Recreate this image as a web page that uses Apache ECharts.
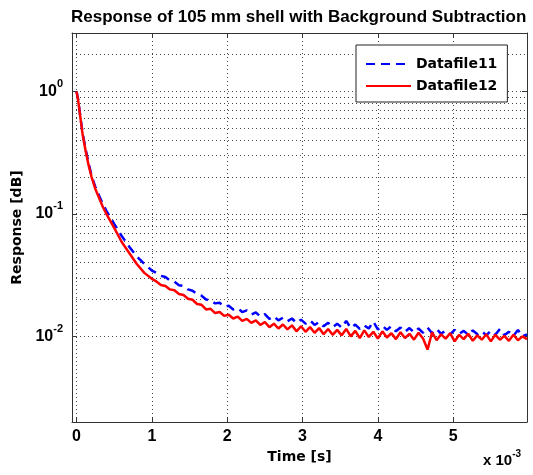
<!DOCTYPE html>
<html>
<head>
<meta charset="utf-8">
<script src="https://cdn.jsdelivr.net/npm/echarts@6/dist/echarts.min.js"></script>
<style>
  html, body { margin: 0; padding: 0; background: #fff; }
  #chart { width: 533px; height: 475px; }
</style>
</head>
<body>
<div id="chart"></div>
<script>
// time in units of 1e-3 s (axis shows "x 10^-3")
var timeMs = [
  0, 0.02, 0.05, 0.08, 0.12, 0.16, 0.2, 0.25, 0.3, 0.35, 0.4, 0.5, 0.6, 0.7, 0.8, 0.9,
  1.00, 1.06, 1.12, 1.18, 1.24, 1.30, 1.36, 1.42, 1.48, 1.54, 1.60, 1.66, 1.72, 1.78,
  1.84, 1.90, 1.96, 2.02, 2.08, 2.14, 2.20, 2.26, 2.32, 2.38, 2.44, 2.50, 2.56, 2.62,
  2.68, 2.74, 2.80, 2.86, 2.92, 2.98, 3.04, 3.10, 3.16, 3.22, 3.28, 3.34, 3.40, 3.46,
  3.52, 3.58, 3.64, 3.70, 3.76, 3.82, 3.88, 3.94, 4.00, 4.06, 4.12, 4.18, 4.24, 4.30,
  4.36, 4.42, 4.48, 4.54, 4.60, 4.66, 4.72, 4.78, 4.84, 4.90, 4.96, 5.02, 5.08, 5.14,
  5.20, 5.26, 5.32, 5.38, 5.44, 5.50, 5.56, 5.62, 5.68, 5.74, 5.80, 5.86, 5.92, 5.98
];

var datafile11 = [
  1.0, 0.87, 0.63, 0.46, 0.34, 0.26, 0.205, 0.166, 0.141, 0.12, 0.105, 0.083, 0.066, 0.054, 0.045, 0.039,
  0.0345, 0.0330, 0.0312, 0.0305, 0.0286, 0.0279, 0.0262, 0.0258, 0.0242, 0.0236, 0.0221, 0.0215, 0.0200, 0.0198,
  0.0186, 0.0188, 0.0175, 0.0178, 0.0166, 0.0170, 0.0158, 0.0163, 0.0151, 0.0157, 0.0145, 0.0152, 0.0139, 0.0146,
  0.0135, 0.0142, 0.0133, 0.0140, 0.0129, 0.0137, 0.0127, 0.0135, 0.0124, 0.0131, 0.0121, 0.0129, 0.0119, 0.0127,
  0.0118, 0.0134, 0.0117, 0.0125, 0.0115, 0.0123, 0.0116, 0.0132, 0.0114, 0.0122, 0.0113, 0.0121, 0.0110, 0.0118,
  0.0109, 0.0117, 0.0108, 0.0116, 0.0107, 0.0118, 0.0106, 0.0115, 0.0105, 0.0112, 0.0104, 0.0113, 0.0105, 0.0111,
  0.0103, 0.0112, 0.0104, 0.0110, 0.0102, 0.0111, 0.0103, 0.0115, 0.0102, 0.0109, 0.0101, 0.0113, 0.0100, 0.0104
];

var datafile12 = [
  1.0, 0.86, 0.62, 0.45, 0.33, 0.25, 0.2, 0.16, 0.135, 0.114, 0.099, 0.077, 0.059, 0.048, 0.039, 0.033,
  0.0295, 0.0281, 0.0263, 0.0258, 0.0242, 0.0238, 0.0222, 0.0218, 0.0203, 0.0199, 0.0184, 0.0181, 0.0166, 0.0168,
  0.0155, 0.0158, 0.0147, 0.0150, 0.0140, 0.0145, 0.0134, 0.0139, 0.0129, 0.0135, 0.0124, 0.0131, 0.0119, 0.0127,
  0.0116, 0.0125, 0.0114, 0.0123, 0.0110, 0.0121, 0.0109, 0.0119, 0.0107, 0.0117, 0.0104, 0.0115, 0.0103, 0.0113,
  0.0102, 0.0115, 0.0100, 0.0111, 0.0097, 0.0112, 0.0099, 0.0109, 0.0096, 0.0110, 0.0098, 0.0106, 0.0095, 0.0108,
  0.0097, 0.0105, 0.0094, 0.0107, 0.0096, 0.0078, 0.0108, 0.0093, 0.0104, 0.0096, 0.0106, 0.0091, 0.0103, 0.0095,
  0.0105, 0.0092, 0.0102, 0.0094, 0.0104, 0.0091, 0.0103, 0.0094, 0.0101, 0.0092, 0.0103, 0.0093, 0.0100, 0.0095
];

// minor log grid lines (2..9 per decade)
var minorGrid = [
  0.003, 0.004, 0.005, 0.006, 0.007, 0.008, 0.009,
  0.02, 0.03, 0.04, 0.05, 0.06, 0.07, 0.08, 0.09,
  0.2, 0.3, 0.4, 0.5, 0.6, 0.7, 0.8, 0.9,
  2
];

var chart = echarts.init(document.getElementById("chart"));

var axisColor = "#333";
var gridStyle = { color: "#444", type: [1, 3], width: 1 };
var numFont = "Liberation Sans";
var textFont = "DejaVu Sans";

function pairs(xs, ys) {
  return xs.map(function (x, i) { return [x, ys[i]]; });
}

var option = {
  animation: false,
  backgroundColor: "#fff",
  title: {
    text: "Response of 105 mm shell with Background Subtraction",
    left: 66,
    top: 4,
    textStyle: { fontFamily: numFont, fontWeight: "bold", fontSize: 17, color: "#000" }
  },
  grid: { left: 72, right: 6, top: 33, bottom: 53 },
  legend: {
    orient: "vertical",
    left: 356,
    top: 45,
    itemWidth: 45,
    itemHeight: 14,
    itemGap: 8,
    padding: [12, 10, 9, 9],
    backgroundColor: "#fff",
    borderColor: "#222",
    borderWidth: 1,
    borderRadius: 0,
    itemStyle: { opacity: 0 },
    textStyle: { fontFamily: textFont, fontWeight: "bold", fontSize: 14, color: "#000" },
    data: ["Datafile11", "Datafile12"]
  },
  xAxis: [
    {
      type: "value",
      min: -0.06,
      max: 5.98,
      name: "Time [s]",
      nameLocation: "middle",
      nameGap: 22,
      nameTextStyle: { fontFamily: textFont, fontWeight: "bold", fontSize: 14, color: "#000" },
      axisLine: { onZero: false, lineStyle: { color: axisColor } },
      axisTick: { inside: true, length: 5, lineStyle: { color: axisColor } },
      axisLabel: {
        margin: 7,
        fontFamily: numFont,
        fontWeight: "bold",
        fontSize: 16,
        color: "#000",
        formatter: function (v) {
          return Math.abs(v - Math.round(v)) < 1e-9 ? String(Math.round(v)) : "";
        }
      },
      splitLine: { show: true, lineStyle: gridStyle }
    },
    {
      type: "value",
      position: "top",
      min: -0.06,
      max: 5.98,
      axisLine: { show: true, onZero: false, lineStyle: { color: axisColor } },
      axisTick: { show: true, inside: true, length: 5, lineStyle: { color: axisColor } },
      axisLabel: { show: false },
      splitLine: { show: false }
    }
  ],
  yAxis: [
    {
      type: "log",
      logBase: 10,
      min: 0.002,
      max: 3,
      name: "Response [dB]",
      nameLocation: "middle",
      nameGap: 44,
      nameTextStyle: { fontFamily: textFont, fontWeight: "bold", fontSize: 14, color: "#000" },
      axisLine: { show: true, onZero: false, lineStyle: { color: axisColor } },
      axisTick: { show: true, inside: true, length: 5, lineStyle: { color: axisColor } },
      axisLabel: {
        margin: 9,
        color: "#000",
        formatter: function (v) {
          var l = Math.log10(v);
          var e = Math.round(l);
          if (Math.abs(l - e) > 1e-6) return "";
          return "{b|10}{s|" + e + "}";
        },
        rich: {
          b: { fontFamily: numFont, fontWeight: "bold", fontSize: 16, lineHeight: 26, color: "#000" },
          s: { fontFamily: numFont, fontWeight: "bold", fontSize: 11, lineHeight: 12, verticalAlign: "top", color: "#000" }
        }
      },
      splitLine: { show: true, lineStyle: gridStyle }
    },
    {
      type: "log",
      logBase: 10,
      min: 0.002,
      max: 3,
      position: "right",
      axisLine: { show: true, onZero: false, lineStyle: { color: axisColor } },
      axisTick: { show: true, inside: true, length: 5, lineStyle: { color: axisColor } },
      axisLabel: { show: false },
      splitLine: { show: false }
    }
  ],
  graphic: [
    {
      type: "text",
      left: 483,
      top: 449,
      style: {
        text: "{b|x 10}{s|-3}",
        rich: {
          b: { fontFamily: numFont, fontWeight: "bold", fontSize: 15, lineHeight: 24, fill: "#000" },
          s: { fontFamily: numFont, fontWeight: "bold", fontSize: 10, lineHeight: 11, verticalAlign: "top", fill: "#000" }
        }
      }
    }
  ],
  series: [
    {
      name: "Datafile11",
      type: "line",
      xAxisIndex: 0,
      yAxisIndex: 0,
      symbol: "none",
      data: pairs(timeMs, datafile11),
      lineStyle: { color: "#0000ff", width: 2.5, type: [9, 6] },
      itemStyle: { color: "#0000ff" },
      z: 3
    },
    {
      name: "Datafile12",
      type: "line",
      xAxisIndex: 0,
      yAxisIndex: 0,
      symbol: "none",
      data: pairs(timeMs, datafile12),
      lineStyle: { color: "#ff0000", width: 2.5 },
      itemStyle: { color: "#ff0000" },
      z: 4,
      markLine: {
        silent: true,
        symbol: ["none", "none"],
        label: { show: false },
        lineStyle: gridStyle,
        emphasis: { disabled: true },
        z: 1,
        data: minorGrid.map(function (v) { return { yAxis: v }; })
      }
    }
  ]
};

chart.setOption(option);
</script>
</body>
</html>
